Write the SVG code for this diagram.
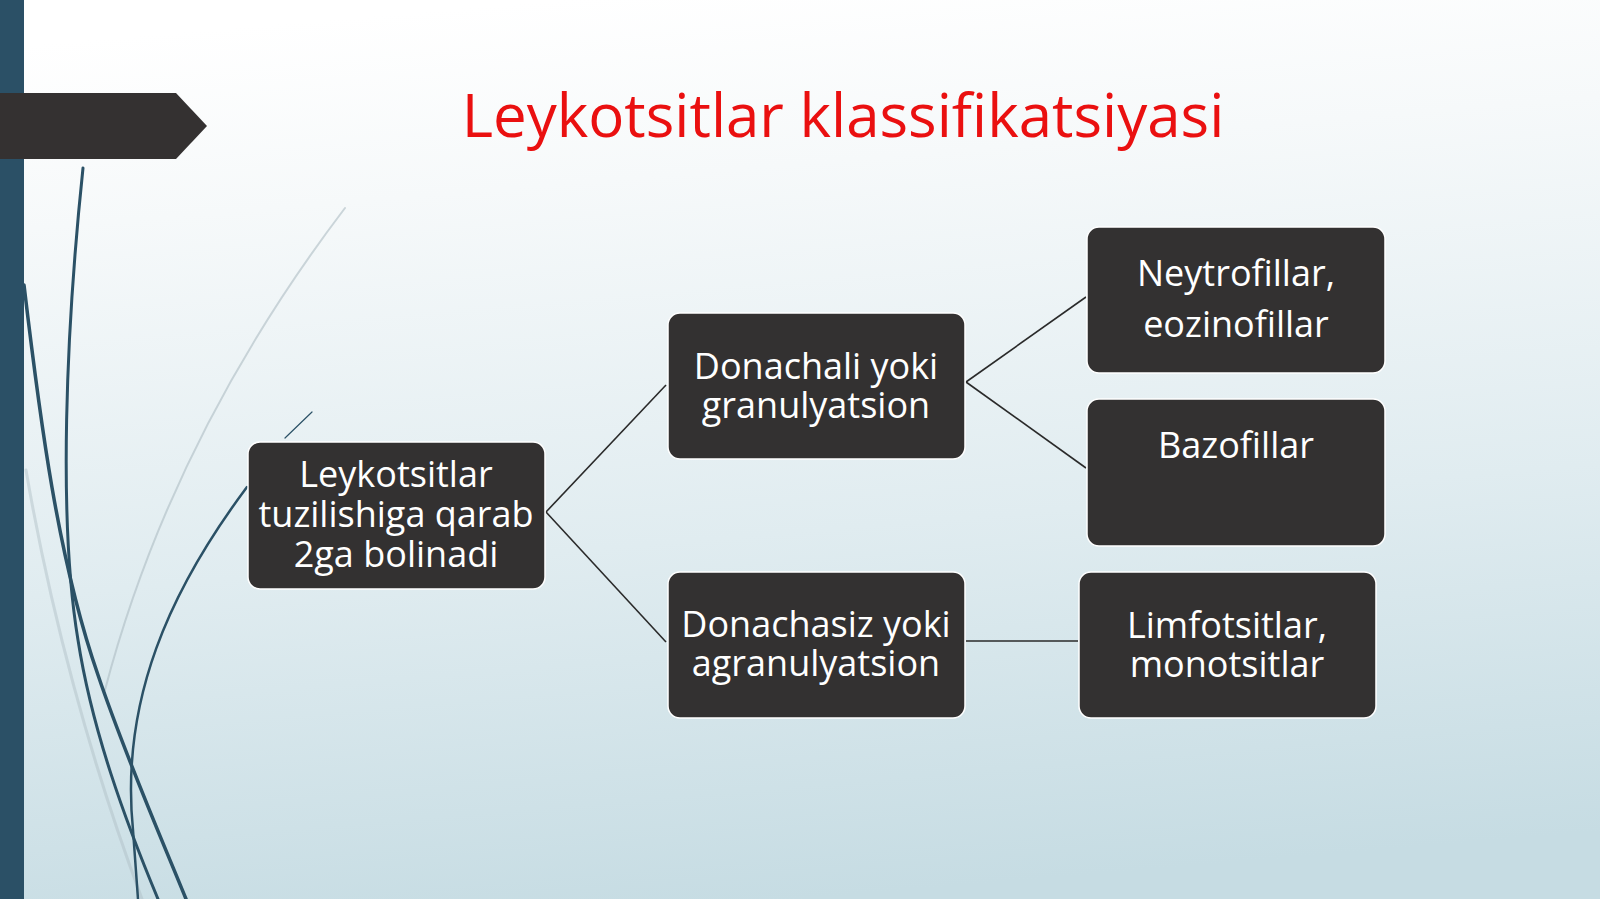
<svg xmlns="http://www.w3.org/2000/svg" width="1600" height="899" viewBox="0 0 1600 899">
<defs>
<linearGradient id="bg" x1="0.35" y1="0" x2="0.5" y2="1">
<stop offset="0" stop-color="#ffffff"/>
<stop offset="0.2" stop-color="#f6f9fa"/>
<stop offset="0.6" stop-color="#e0ecf0"/>
<stop offset="1" stop-color="#c6dce3"/>
</linearGradient>
<style>
.box{fill:#333131;stroke:#ffffff;stroke-width:1.5}
.lbl{font-family:"Open Sans","Liberation Sans",sans-serif;font-size:36px;fill:#ffffff;text-anchor:middle}
.con{stroke:#2a2a2a;stroke-width:1.6;fill:none}
.dk{fill:none;stroke:#2b5166;stroke-linecap:round}
.lt{fill:none;stroke:#aebcc3;stroke-linecap:round}
</style>
</defs>
<rect width="1600" height="899" fill="url(#bg)"/>
<g id="decor">
<path class="lt" d="M 345 208 C 260 320 160 480 105 690" stroke-width="2" opacity="0.6"/>
<path class="lt" d="M 26 470 C 50 610 90 760 142 899" stroke-width="3" opacity="0.45"/>
<path class="dk" d="M 24 285 C 40 420 58 560 98 675 C 125 755 160 835 186 899" stroke-width="3.5"/>
<path class="dk" d="M 83 168 C 66 330 58 520 78 640 C 92 730 125 820 158 899" stroke-width="3"/>
<path class="dk" d="M 247 487 C 170 590 120 700 133 830 L 138 899" stroke-width="2.5"/>
<path class="dk" d="M 312 412 L 285 438" stroke-width="1.2"/>
<rect x="0" y="0" width="24" height="899" fill="#2b5066"/>
<polygon points="0,93 176,93 207,126 176,159 0,159" fill="#343131"/>
</g>
<text id="title" x="843" y="137" font-family="'Open Sans','Liberation Sans',sans-serif" font-size="60" fill="#ea1010" text-anchor="middle">Leykotsitlar klassifikatsiyasi</text>
<g id="connectors">
<line class="con" x1="546" y1="512" x2="666" y2="385"/>
<line class="con" x1="546" y1="512" x2="666" y2="642"/>
<line class="con" x1="966" y1="382" x2="1086" y2="297"/>
<line class="con" x1="966" y1="382" x2="1086" y2="468"/>
<line class="con" x1="966" y1="641" x2="1078" y2="641"/>
</g>
<g id="n-root">
<rect class="box" x="248" y="442" width="297" height="147" rx="12"/>
<text class="lbl" x="396" y="487">Leykotsitlar</text>
<text class="lbl" x="396" y="527">tuzilishiga qarab</text>
<text class="lbl" x="396" y="567">2ga bolinadi</text>
</g>
<g id="n-donachali">
<rect class="box" x="668" y="313" width="297" height="146" rx="12"/>
<text class="lbl" x="816" y="379">Donachali yoki</text>
<text class="lbl" x="816" y="418">granulyatsion</text>
</g>
<g id="n-donachasiz">
<rect class="box" x="668" y="572" width="297" height="146" rx="12"/>
<text class="lbl" x="816" y="637">Donachasiz yoki</text>
<text class="lbl" x="816" y="676">agranulyatsion</text>
</g>
<g id="n-neytrofillar">
<rect class="box" x="1087" y="227" width="298" height="146" rx="12"/>
<text class="lbl" x="1236" y="286">Neytrofillar,</text>
<text class="lbl" x="1236" y="337">eozinofillar</text>
</g>
<g id="n-bazofillar">
<rect class="box" x="1087" y="399" width="298" height="147" rx="12"/>
<text class="lbl" x="1236" y="458">Bazofillar</text>
</g>
<g id="n-limfotsitlar">
<rect class="box" x="1079" y="572" width="297" height="146" rx="12"/>
<text class="lbl" x="1227" y="638">Limfotsitlar,</text>
<text class="lbl" x="1227" y="677">monotsitlar</text>
</g>
</svg>
